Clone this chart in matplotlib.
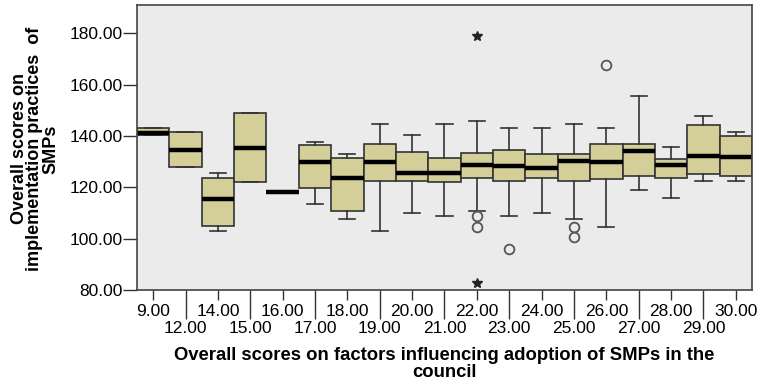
import matplotlib.pyplot as plt
from matplotlib.ticker import FixedLocator, FixedFormatter

plt.rcParams['font.family'] = ['Liberation Sans', 'DejaVu Sans']

# categories on x axis (factor score groups)
groups = [9, 12, 14, 15, 16, 17, 18, 19, 20, 21, 22, 23, 24, 25, 26, 27, 28, 29, 30]

# box statistics
q1 = [140.5, 128.1, 105.1, 122.0, 118.0, 119.6, 110.7, 122.5, 122.5, 122.0,
      123.8, 122.5, 123.8, 122.5, 123.2, 124.4, 123.8, 125.2, 124.4]
med = [141.0, 134.6, 115.4, 135.2, 118.0, 129.8, 123.8, 129.8, 125.5, 125.5,
       128.7, 128.2, 127.4, 130.4, 129.8, 134.1, 128.6, 132.2, 131.7]
q3 = [143.0, 141.7, 123.8, 148.9, 118.0, 136.4, 131.5, 136.9, 133.9, 131.5,
      133.3, 134.5, 132.8, 132.8, 136.9, 136.9, 131.0, 144.1, 139.9]
whis_lo = [140.5, 128.1, 102.9, 122.0, 118.0, 113.6, 107.7, 102.9, 110.1, 108.7,
           110.8, 108.7, 110.1, 107.6, 104.6, 118.9, 115.9, 122.5, 122.5]
whis_hi = [143.0, 141.7, 125.6, 148.9, 118.0, 137.6, 132.8, 144.7, 140.5, 144.7,
           146.0, 143.0, 143.0, 144.7, 143.0, 155.5, 135.8, 147.7, 141.7]
# outliers (circles) and extremes (stars)
outliers = {22: [108.8, 104.7], 23: [95.9], 25: [104.7, 100.8], 26: [167.7]}
extremes = {22: [178.8, 82.8]}

stats = []
for i, g in enumerate(groups):
    stats.append({'med': med[i], 'q1': q1[i], 'q3': q3[i],
                  'whislo': whis_lo[i], 'whishi': whis_hi[i],
                  'fliers': outliers.get(g, [])})

fig = plt.figure(figsize=(7.62, 3.81), dpi=100)
ax = fig.add_axes([137 / 762, 1 - 290 / 381, 615 / 762, 285 / 381])
ax.set_facecolor('#EBEBEB')

edge = '#333333'
ax.bxp(stats, positions=range(len(groups)), widths=1.0, capwidths=0.5,
       patch_artist=True, showfliers=True,
       boxprops=dict(facecolor='#D4CF98', edgecolor=edge, linewidth=1.2),
       medianprops=dict(color='black', linewidth=3.2, solid_capstyle='butt'),
       whiskerprops=dict(color=edge, linewidth=1.2),
       capprops=dict(color=edge, linewidth=1.2),
       flierprops=dict(marker='o', markerfacecolor='none', markeredgecolor='#555555',
                       markersize=7, markeredgewidth=1.3))

for g, vals in extremes.items():
    x = groups.index(g)
    ax.plot([x] * len(vals), vals, linestyle='none', marker='*', color='#222222',
            markersize=7.5)

ax.set_xlim(-0.5, len(groups) - 0.5)
ax.set_ylim(80, 191)
ax.set_yticks([80, 100, 120, 140, 160, 180])
ax.set_yticklabels([f'{v:.2f}' for v in [80, 100, 120, 140, 160, 180]])

labels = [f'{g:.2f}' for g in groups]
major_pos = list(range(0, len(groups), 2))
minor_pos = list(range(1, len(groups), 2))
ax.xaxis.set_major_locator(FixedLocator(major_pos))
ax.xaxis.set_major_formatter(FixedFormatter([labels[i] for i in major_pos]))
ax.xaxis.set_minor_locator(FixedLocator(minor_pos))
ax.xaxis.set_minor_formatter(FixedFormatter([labels[i] for i in minor_pos]))

ax.tick_params(axis='x', which='major', length=7, width=1, color='#333333',
               labelsize=12.5, pad=3)
ax.tick_params(axis='x', which='minor', length=21, width=1, color='#333333',
               labelsize=12.5, pad=1)
ax.tick_params(axis='y', length=10, width=1, color='#333333', labelsize=12.5, pad=0.5)

for s in ax.spines.values():
    s.set_color('#444444')
    s.set_linewidth(1.2)

fig.text(444 / 762, 1 - 364 / 381,
         'Overall scores on factors influencing adoption of SMPs in the\ncouncil',
         ha='center', va='center', fontsize=13.3, fontweight='bold', linespacing=0.95)
fig.text(35 / 762, 1 - 149 / 381,
         'Overall scores on\nimplementation practices  of\nSMPs',
         ha='center', va='center', rotation=90, fontsize=13, fontweight='bold',
         linespacing=0.92, multialignment='center')

fig.savefig('out.png', dpi=100)
